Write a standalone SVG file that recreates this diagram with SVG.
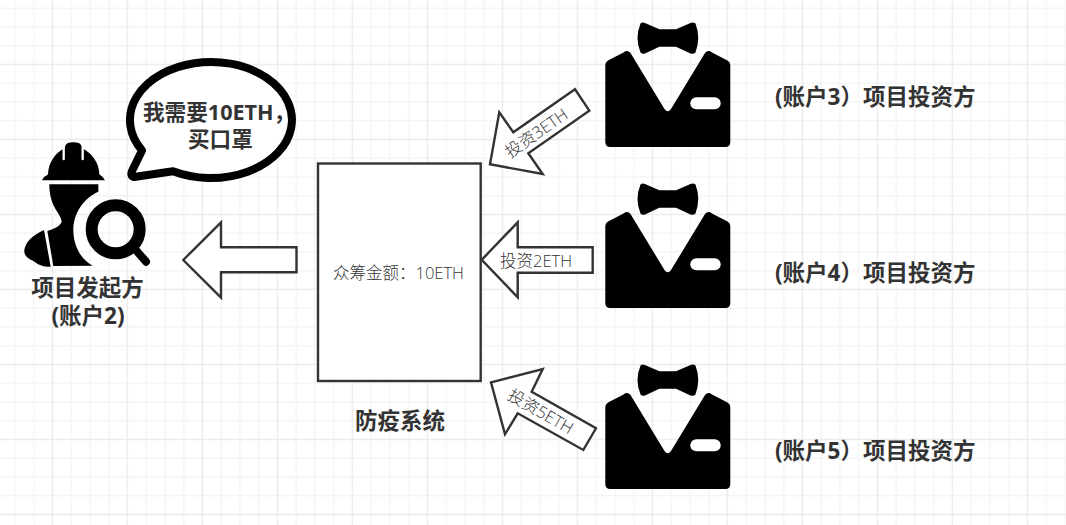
<svg xmlns="http://www.w3.org/2000/svg" width="1066" height="525" viewBox="0 0 1066 525">
<style>
text{font-family:"Open Sans","Noto Sans CJK SC",sans-serif;fill:#333}
.b{font-size:22.5px;font-weight:700}
.s{font-size:21.6px;font-weight:700}
.t{font-size:16.5px;font-weight:300}
.arrow{fill:#fff;stroke:#333;stroke-width:2.4;stroke-linejoin:miter}
.minor{stroke:#f5f5f5;stroke-width:1.5;fill:none}
.major{stroke:#ebebeb;stroke-width:1.5;fill:none}
</style>
<defs>
<pattern id="grid" patternUnits="userSpaceOnUse" x="43.125" y="54.925" width="75" height="75">
<path class="minor" d="M28.125 0V75M46.875 0V75M65.625 0V75M0 28.125H75M0 46.875H75M0 65.625H75"/>
<path class="major" d="M9.375 0V75M0 9.375H75"/>
</pattern>
<g id="tux">
<path d="M608 60.5 L623.5 52.5 Q627.5 49.5 630.5 53 L664.5 109 Q667.7 113.5 671 109 L705 53 Q708 49.5 712 52.5 L727.5 60.5 Q730.3 62 730.3 65 V142 Q730.3 147 725.3 147 H610.3 Q605.3 147 605.3 142 V65 Q605.3 62 608 60.5Z" fill="#000"/>
<rect x="690.3" y="97.3" width="30.4" height="12" rx="6" fill="#fff"/>
<path d="M640.5 23.5 Q642 22 645 23 L659.3 29.3 H676 L690.5 23 Q693.5 22 695.5 23.5 Q701 38 695.5 52.5 Q693.5 54.5 690.5 53.5 L676 46.7 H659.3 L645 53.5 Q642 54.5 640.5 52.5 Q634.5 38 640.5 23.5Z" fill="#000"/>
</g>
</defs>
<rect width="1066" height="525" fill="#fff"/>
<rect width="1066" height="525" fill="url(#grid)"/>
<g id="connectors">
<path class="arrow" d="M183.3 260 L221 222.3 V247.3 H296.5 V272.3 H221 V297.7Z"/>
<path class="arrow" d="M481.7 259.8 L517.7 222.3 V247.3 H592.7 V272.7 H517.7 V297.3Z"/>
<path class="arrow" d="M490 164.3 L499.3 112.3 L513.3 132.3 L575 89.3 L589.3 110.7 L528.3 153.3 L542.7 174Z"/>
<path class="arrow" d="M491 382.3 L542.7 369 L531.7 391.7 L596 428.3 L583.3 450 L517.7 413.3 L505 434.3Z"/>
<text class="t" x="536" y="132.500" text-anchor="middle" dominant-baseline="central" transform="rotate(-35 536 132.500)">投资3ETH</text>
<text class="t" x="536" y="260" text-anchor="middle" dominant-baseline="central">投资2ETH</text>
<text class="t" x="541" y="411" text-anchor="middle" dominant-baseline="central" transform="rotate(30 541 411)">投资5ETH</text>
</g>
<g id="system">
<rect x="318" y="163.500" width="162.700" height="217.500" fill="#fff" stroke="#333" stroke-width="2.400"/>
<text class="t" x="398.500" y="272.500" text-anchor="middle" dominant-baseline="central">众筹金额：10ETH</text>
<text class="b" x="400" y="428.500" text-anchor="middle">防疫系统</text>
</g>
<g id="speech">
<path d="M142 150.400 A81 58 0 1 1 173 171.200 L134 177 Q130 176 132 171Z" fill="#fff" stroke="#000" stroke-width="8" stroke-linejoin="round"/>
<text class="s"><tspan x="143" y="120">我需要10ETH，</tspan><tspan x="188" y="146.500">买口罩</tspan></text>
</g>
<g id="initiator">
<g transform="translate(20 135) scale(.33333)" fill="#000">
<path d="M66 136 L72 126 Q82 122 84 118 C85 85 105 52 135 40 V35 Q137 22 160 22 Q183 22 185 35 V40 C215 52 238 85 238 118 Q242 122 248 126 L255 136Z"/>
<path d="M131 40V72M188 40V72" stroke="#fff" stroke-width="7" stroke-linecap="round" fill="none"/>
<path d="M88 148 H235 V170 C190 190 160 235 160 285 C160 335 185 375 218 392 L100 393 L82 288 Q115 280 125 262 C125 235 88 220 88 148Z"/>
<path d="M72 285 L92 395 Q65 398 40 378 Q10 365 13 345 Q18 310 72 285Z"/>
<circle cx="287" cy="283" r="72" fill="none" stroke="#000" stroke-width="36"/>
<path d="M345 342L378 380" stroke="#000" stroke-width="24" stroke-linecap="round" fill="none"/>
</g>
<text class="b" x="87.500" y="296" text-anchor="middle">项目发起方</text>
<text class="b" x="88" y="324" text-anchor="middle">(账户2)</text>
</g>
<g id="investor3"><use href="#tux"/><text class="b" x="775" y="105">(账户3）项目投资方</text></g>
<g id="investor4"><use href="#tux" y="161"/><text class="b" x="775" y="281">(账户4）项目投资方</text></g>
<g id="investor5"><use href="#tux" y="342"/><text class="b" x="775" y="459">(账户5）项目投资方</text></g>
</svg>
